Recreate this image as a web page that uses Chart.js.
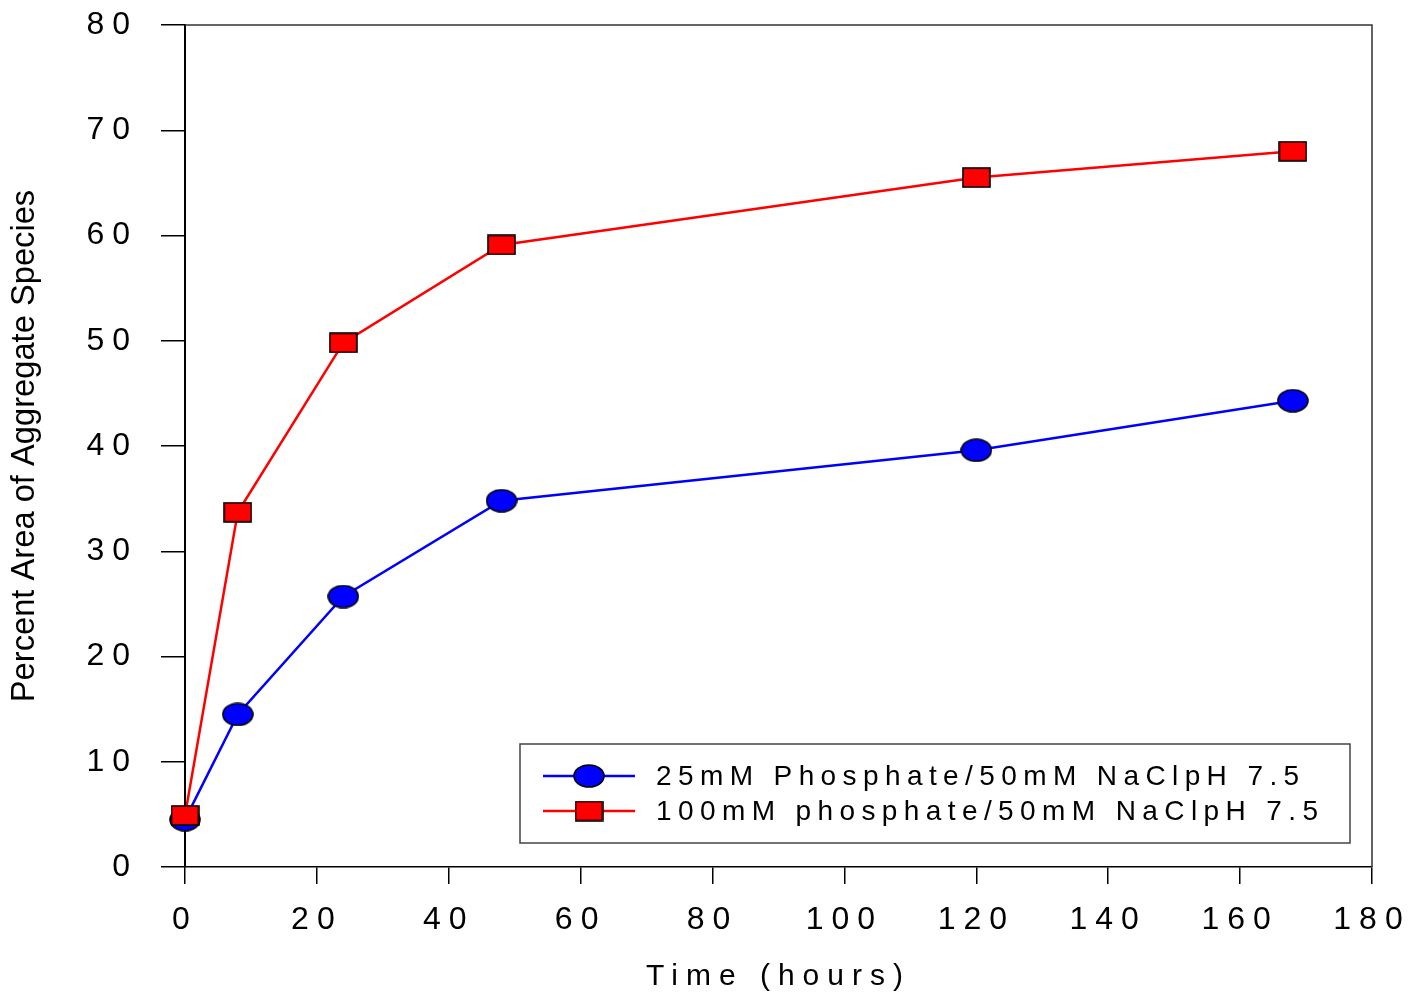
<!DOCTYPE html>
<html>
<head>
<meta charset="utf-8">
<script src="https://cdn.jsdelivr.net/npm/chart.js@4.4.1/dist/chart.umd.min.js"></script>
<style>
  html, body { margin: 0; padding: 0; background: #fff; }
  #wrap { width: 1408px; height: 994px; }
</style>
</head>
<body>
<div id="wrap"><canvas id="ch"></canvas></div>
<script>
/* ── data ── */
const hours      = [0, 8, 24, 48, 120, 168];
const lowPhos    = [4.5, 14.5, 25.7, 34.8, 39.6, 44.3];
const highPhos   = [4.9, 33.7, 49.8, 59.1, 65.5, 68.0];
const labelLow   = '25mM Phosphate/50mM NaClpH 7.5';
const labelHigh  = '100mM phosphate/50mM NaClpH 7.5';
const xTitle     = 'Time (hours)';
const yTitle     = 'Percent Area of Aggregate Species';

const FONT = '"Liberation Sans", Arial, sans-serif';

/* ── marker images ── */
function mkMarker(kind, fill) {
  const c = document.createElement('canvas');
  const w = kind === 'ellipse' ? 32 : 29, h = kind === 'ellipse' ? 24 : 21;
  c.width = w; c.height = h;
  const g = c.getContext('2d');
  g.fillStyle = fill; g.strokeStyle = '#000'; g.lineWidth = 1.6;
  if (kind === 'ellipse') {
    g.beginPath(); g.ellipse(w / 2, h / 2, w / 2 - 1, h / 2 - 1, 0, 0, Math.PI * 2);
    g.fill(); g.stroke();
  } else {
    g.fillRect(1, 1, w - 2, h - 2); g.strokeRect(1, 1, w - 2, h - 2);
  }
  return c;
}
const ellBlue = mkMarker('ellipse', '#0000ff');
const sqRed   = mkMarker('rect', '#ff0000');

const pts = arr => hours.map((t, i) => ({ x: t, y: arr[i] }));

/* ── text spacing + frame + legend + y title ── */
const deco = {
  id: 'deco',
  beforeLayout(chart) { chart.ctx.letterSpacing = '8px'; },
  beforeDraw(chart)   { chart.ctx.letterSpacing = '8px'; },
  afterDraw(chart) {
    const ctx = chart.ctx, a = chart.chartArea;
    ctx.save();
    // top / right frame
    ctx.strokeStyle = '#333'; ctx.lineWidth = 1.5;
    ctx.beginPath();
    ctx.moveTo(a.left, a.top); ctx.lineTo(a.right, a.top);
    ctx.lineTo(a.right, a.bottom);
    ctx.stroke();

    // y title
    ctx.letterSpacing = '0px';
    ctx.fillStyle = '#000';
    ctx.font = '32.7px ' + FONT;
    ctx.textAlign = 'center'; ctx.textBaseline = 'middle';
    ctx.translate(25, 446);
    ctx.rotate(-Math.PI / 2);
    ctx.fillText(yTitle, 0, 0);
    ctx.restore();

    // legend box
    ctx.save();
    const bx = a.right - 852, by = a.bottom - 123, bw = 830, bh = 99;
    ctx.fillStyle = '#fff'; ctx.fillRect(bx, by, bw, bh);
    ctx.strokeStyle = '#444'; ctx.lineWidth = 1.5;
    ctx.strokeRect(bx, by, bw, bh);
    const rows = [
      { text: labelLow,  color: '#0000ff', img: ellBlue, y: by + 32 },
      { text: labelHigh, color: '#ff0000', img: sqRed,   y: by + 67 },
    ];
    ctx.font = '28px ' + FONT;
    ctx.letterSpacing = '6.4px';
    ctx.textAlign = 'left'; ctx.textBaseline = 'middle';
    rows.forEach(r => {
      ctx.strokeStyle = r.color; ctx.lineWidth = 2.4;
      ctx.beginPath(); ctx.moveTo(bx + 23, r.y); ctx.lineTo(bx + 115, r.y); ctx.stroke();
      ctx.drawImage(r.img, bx + 69 - r.img.width / 2, r.y - r.img.height / 2);
      ctx.fillStyle = '#000';
      ctx.fillText(r.text, bx + 136, r.y + 1);
    });
    ctx.restore();
  }
};

new Chart(document.getElementById('ch'), {
  type: 'line',
  data: {
    datasets: [
      {
        label: labelLow, data: pts(lowPhos), order: 2,
        borderColor: '#0000ff', borderWidth: 2.5, tension: 0,
        pointStyle: ellBlue, clip: false,
      },
      {
        label: labelHigh, data: pts(highPhos), order: 1,
        borderColor: '#ff0000', borderWidth: 2.5, tension: 0,
        pointStyle: sqRed, clip: false,
      },
    ]
  },
  options: {
    responsive: true, maintainAspectRatio: false, animation: false,
    layout: { padding: { left: 0, top: 25, right: 36, bottom: 0 } },
    plugins: { legend: { display: false }, tooltip: { enabled: false } },
    scales: {
      x: {
        type: 'linear', min: 0, max: 180,
        grid: { drawOnChartArea: false, drawTicks: true, tickLength: 17, color: '#000', lineWidth: 1.5 },
        border: { display: true, color: '#000', width: 1.5 },
        ticks: { stepSize: 20, color: '#000', padding: 17, maxRotation: 0, font: { family: FONT, size: 32 } },
        title: { display: true, text: xTitle, color: '#000', padding: { top: 0, bottom: -1 }, font: { family: FONT, size: 30 } },
        afterFit: s => { s.height = 127; s.paddingLeft = 0; s.paddingRight = 0; }
      },
      y: {
        min: 0, max: 80,
        grid: { drawOnChartArea: false, drawTicks: true, tickLength: 24, color: '#000', lineWidth: 1.5 },
        border: { display: true, color: '#000', width: 2 },
        ticks: { stepSize: 10, color: '#000', padding: 23, font: { family: FONT, size: 32 } },
        afterFit: s => { s.width = 185; s.paddingTop = 0; s.paddingBottom = 0; }
      }
    }
  },
  plugins: [deco]
});
</script>
</body>
</html>
